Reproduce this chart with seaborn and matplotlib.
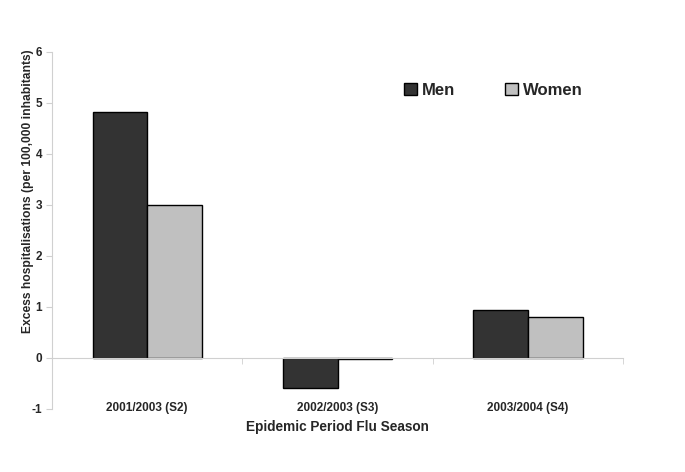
import pandas as pd
import seaborn as sns
import matplotlib.pyplot as plt
from matplotlib.ticker import FixedLocator

# data
seasons = ["2001/2003 (S2)", "2002/2003 (S3)", "2003/2004 (S4)"]
men = [4.82, -0.59, 0.94]
women = [3.0, -0.02, 0.80]

df = pd.DataFrame({
    "Season": seasons * 2,
    "Sex": ["Men"] * 3 + ["Women"] * 3,
    "Excess": men + women,
})

sns.set_style("white")
plt.rcParams['font.family'] = ['Liberation Sans', 'DejaVu Sans']

fig = plt.figure(figsize=(6.85, 4.72), dpi=100)
ax = fig.add_axes([0.076, 0.1335, 0.8336, 0.7564])

sns.barplot(data=df, x="Season", y="Excess", hue="Sex",
            palette={"Men": "#333333", "Women": "#c0c0c0"},
            width=0.575, edgecolor="black", linewidth=1.0, ax=ax)

ax.set_ylim(-1, 6)
ax.set_xlim(-0.5, 2.5)
ax.set_yticks(range(-1, 7))
ax.set_yticklabels([str(v) for v in range(-1, 7)], fontweight="bold", fontsize=8.5)

# category axis crosses at zero, labels stay at the bottom
ax.spines["top"].set_visible(False)
ax.spines["right"].set_visible(False)
ax.spines["bottom"].set_position(("data", 0))
for s in ["left", "bottom"]:
    ax.spines[s].set_color("#d0d0d0")
ax.tick_params(axis="y", which="major", direction="out", length=4, color="#d0d0d0", pad=3, left=True)
ax.tick_params(axis="x", which="major", length=0, pad=32)
ax.xaxis.set_minor_locator(FixedLocator([-0.5, 0.5, 1.5, 2.5]))
ax.tick_params(axis="x", which="minor", direction="out", length=4, color="#d0d0d0", bottom=True)
for lbl in ax.get_xticklabels():
    lbl.set_fontweight("bold")
    lbl.set_fontsize(8.5)

ax.set_xlabel("Epidemic Period Flu Season", fontsize=9.8, fontweight="bold", labelpad=4)
ax.set_ylabel("Excess hospitalisations (per 100,000 inhabitants)", fontsize=8.7, fontweight="bold")
ax.yaxis.set_label_coords(-0.031, 0.61)

handles, labels = ax.get_legend_handles_labels()
ax.get_legend().remove()
fig.legend(handles, labels, loc="center right", bbox_to_anchor=(0.872, 0.809), ncol=2, frameon=False,
           prop={"weight": "bold", "size": 12}, handlelength=0.75, handleheight=0.75,
           handletextpad=0.3, columnspacing=3.0)

fig.savefig("out.png", dpi=100)
